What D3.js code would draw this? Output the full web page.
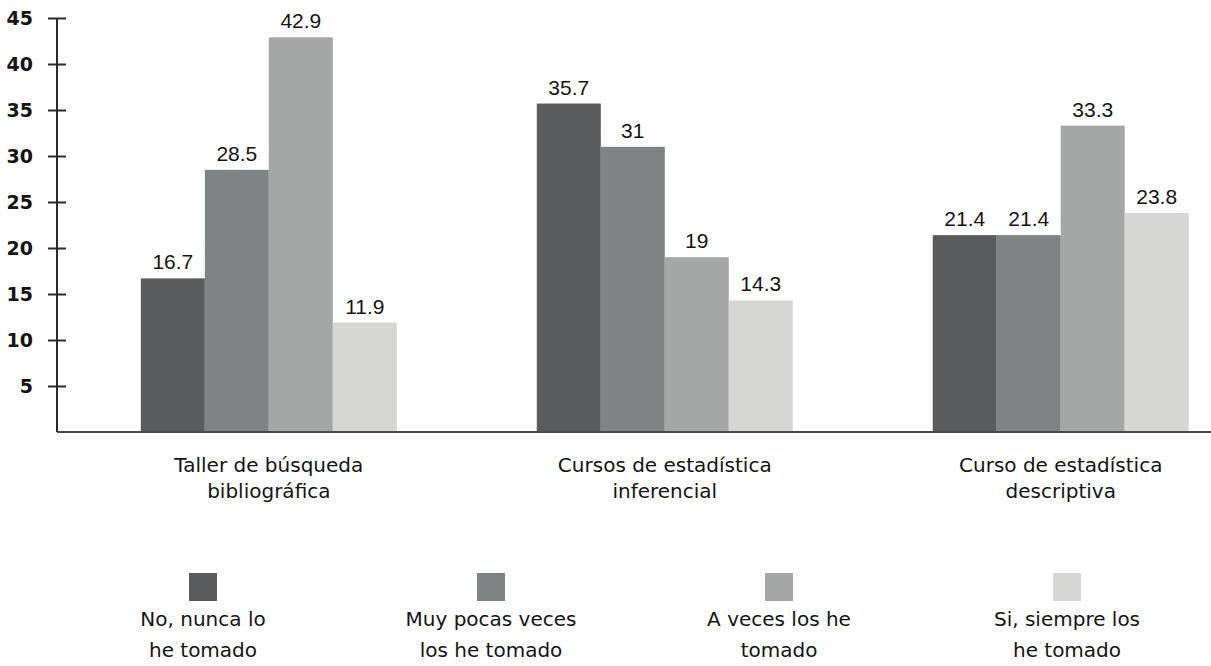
<!DOCTYPE html>
<html>
<head>
<meta charset="utf-8">
<script src="https://cdn.jsdelivr.net/npm/d3@7"></script>
<style>
  html, body { margin: 0; padding: 0; background: #fff; }
  svg { display: block; }
  .lbl { font-family: "DejaVu Sans", sans-serif; fill: #141414; }
  .val { font-family: "Liberation Sans", Arial, sans-serif; fill: #141414; }
</style>
</head>
<body>
<svg id="chart" width="1211" height="666"></svg>
<script>
// Course categories (two-line labels)
const categories = ["Taller de búsqueda bibliográfica", "Cursos de estadística inferencial", "Curso de estadística descriptiva"];
const categoryLines = [["Taller de búsqueda", "bibliográfica"], ["Cursos de estadística", "inferencial"], ["Curso de estadística", "descriptiva"]];

// Answer series
const seriesNames = ["No, nunca lo he tomado", "Muy pocas veces los he tomado", "A veces los he tomado", "Si, siempre los he tomado"];
const seriesLines = [["No, nunca lo", "he tomado"], ["Muy pocas veces", "los he tomado"], ["A veces los he", "tomado"], ["Si, siempre los", "he tomado"]];
const seriesColors = ["#5a5b5d", "#7f8383", "#a5a7a6", "#d6d6d5"];

// Percentages per series, one value per category
const nuncaValues   = [16.7, 35.7, 21.4];
const pocasValues   = [28.5, 31, 21.4];
const avecesValues  = [42.9, 19, 33.3];
const siempreValues = [11.9, 14.3, 23.8];

const yTicks = [5, 10, 15, 20, 25, 30, 35, 40, 45];

const seriesValues = [nuncaValues, pocasValues, avecesValues, siempreValues];
const rows = [];
categories.forEach((c, ci) => {
  seriesNames.forEach((s, si) => rows.push({ category: c, series: s, si, value: seriesValues[si][ci] }));
});

const svg = d3.select("#chart");
const axisX = 57, baseY = 432;

const y = d3.scaleLinear().domain([0, 45]).range([baseY, 18]);

const x0 = d3.scaleBand().domain(categories)
  .range([axisX, 1211])
  .paddingInner(0.3535).paddingOuter(0.134).align(0.79);

const x1 = d3.scaleBand().domain(seriesNames).range([0, x0.bandwidth()]).padding(0);
const color = d3.scaleOrdinal().domain(seriesNames).range(seriesColors);

// Bars
svg.append("g").selectAll("rect").data(rows).join("rect")
  .attr("x", d => x0(d.category) + x1(d.series))
  .attr("y", d => y(d.value))
  .attr("width", x1.bandwidth())
  .attr("height", d => baseY - y(d.value))
  .attr("fill", d => color(d.series));

// Value labels
svg.append("g").selectAll("text").data(rows).join("text")
  .attr("class", "val")
  .attr("x", d => x0(d.category) + x1(d.series) + x1.bandwidth() / 2)
  .attr("y", d => y(d.value) - 9)
  .attr("text-anchor", "middle")
  .style("font-size", "21px")
  .text(d => String(d.value));

// Baseline
svg.append("line")
  .attr("x1", axisX).attr("x2", 1211)
  .attr("y1", baseY).attr("y2", baseY)
  .attr("stroke", "#4a4a4a").attr("stroke-width", 2);

// Y axis with ticks crossing the line
const yAxis = svg.append("g")
  .attr("transform", `translate(${axisX},0)`)
  .call(d3.axisLeft(y).tickValues(yTicks).tickSize(9).tickPadding(15).tickSizeOuter(0));
yAxis.select(".domain").attr("stroke", "#2a2a2a").attr("stroke-width", 2)
  .attr("d", `M0,${y(45)}V${baseY}`);
yAxis.selectAll(".tick line").attr("x1", 9).attr("stroke", "#2a2a2a").attr("stroke-width", 2);
yAxis.selectAll(".tick text")
  .attr("fill", "#141414")
  .style("font-family", "'DejaVu Sans', sans-serif")
  .style("font-weight", "bold")
  .style("font-size", "19px");

// Category labels
const cat = svg.append("g").selectAll("text").data(categories).join("text")
  .attr("class", "lbl")
  .attr("text-anchor", "middle")
  .style("font-size", "20px")
  .attr("x", d => x0(d) + x0.bandwidth() / 2)
  .attr("y", 472);
cat.selectAll("tspan").data((d, i) => categoryLines[i]).join("tspan")
  .attr("x", function () { return this.parentNode.getAttribute("x"); })
  .attr("dy", (d, i) => i === 0 ? 0 : 26)
  .text(d => d);

// Legend
const lx = d3.scalePoint().domain(seriesNames).range([203, 1067]);
const leg = svg.append("g").selectAll("g").data(seriesNames).join("g")
  .attr("transform", d => `translate(${lx(d)},0)`);
leg.append("rect")
  .attr("x", -14).attr("y", 573).attr("width", 28).attr("height", 28)
  .attr("fill", d => color(d));
const lt = leg.append("text")
  .attr("class", "lbl")
  .attr("text-anchor", "middle")
  .style("font-size", "20px")
  .attr("y", 626);
lt.selectAll("tspan").data((d, i) => seriesLines[i]).join("tspan")
  .attr("x", 0)
  .attr("dy", (d, i) => i === 0 ? 0 : 31)
  .text(d => d);
</script>
</body>
</html>
